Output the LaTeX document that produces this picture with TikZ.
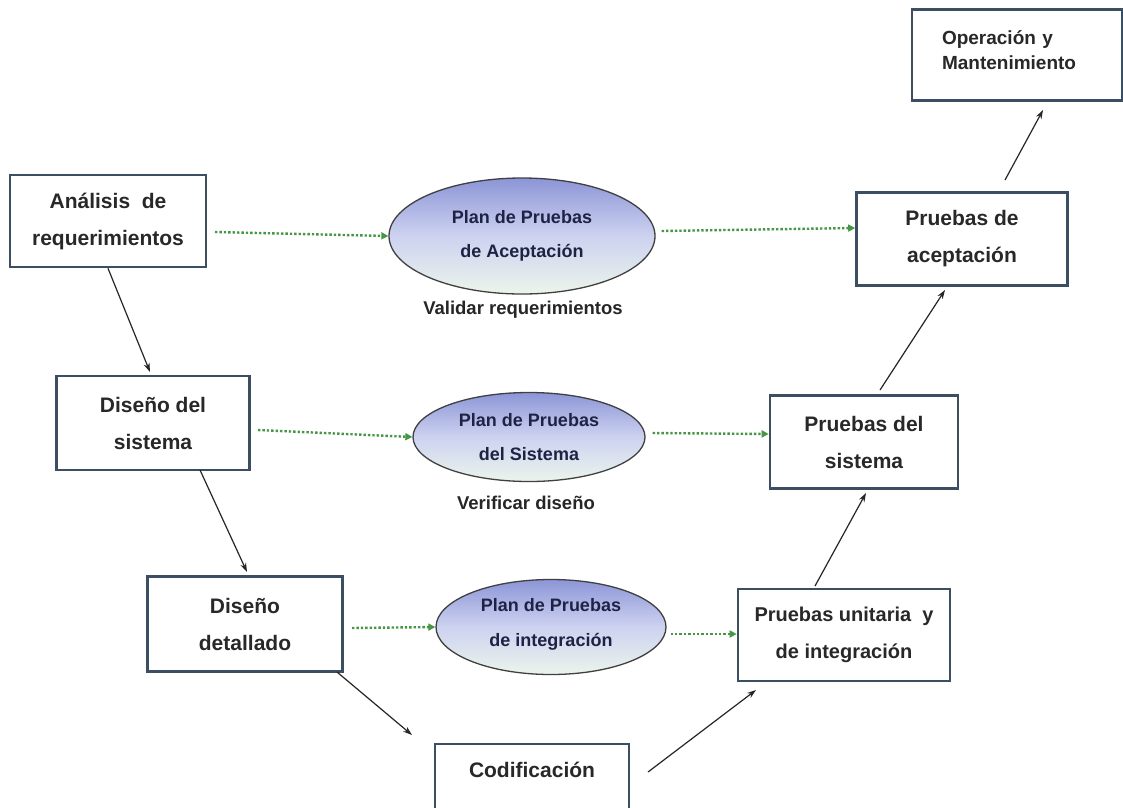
\documentclass[tikz,border=0pt]{standalone}
\usepackage{fontspec}
\setmainfont{Liberation Sans}
\usetikzlibrary{shapes.geometric,arrows.meta}
\definecolor{boxline}{RGB}{60,78,98}
\definecolor{txt}{RGB}{40,40,40}
\definecolor{navy}{RGB}{30,35,70}
\definecolor{dotgreen}{RGB}{70,150,70}
\definecolor{elltop}{RGB}{140,150,215}
\definecolor{ellmid}{RGB}{205,210,240}
\definecolor{ellbot}{RGB}{235,245,235}
\tikzset{
  stepbox/.style={draw=boxline, line width=2.6pt, fill=white, align=center, text=txt,
    font=\bfseries\fontsize{21}{37}\selectfont, inner sep=0pt},
  steptext/.style={text=txt, inner sep=0pt, font=\bfseries\fontsize{21}{37}\selectfont},
  planell/.style={ellipse, draw=black!75, line width=1.3pt, top color=elltop, bottom color=ellbot,
    middle color=ellmid, align=center, text=navy, inner sep=0pt,
    font=\bfseries\fontsize{18}{34}\selectfont},
  note/.style={font=\bfseries\fontsize{18.5}{20}\selectfont, text=black!85},
  flow/.style={-{Stealth[length=9pt,width=6pt]}, line width=1.2pt, black!85},
  dotarrow/.style={dotted, line width=2.4pt, dotgreen, -{Triangle[length=7pt,width=7pt]}}
}
\begin{document}
\begin{tikzpicture}[x=1pt,y=-1pt]
\clip (0,0) rectangle (1123,807);
\fill[white] (0,0) rectangle (1123,807);
% boxes
\node[stepbox, minimum width=196pt, minimum height=92pt] (ana) at (108,221) {Análisis~~de\\requerimientos};
\node[stepbox, minimum width=193pt, minimum height=94pt] (dsis) at (153,423) {Diseño del\\sistema};
\node[stepbox, minimum width=195pt, minimum height=95pt] (ddet) at (245,624) {Diseño\\detallado};
\node[stepbox, minimum width=194pt, minimum height=80pt] (cod) at (532,784) {};
\node[steptext] (codtxt) at (532,770) {Codificación};
\node[stepbox, minimum width=212pt, minimum height=92pt, font=\bfseries\fontsize{20}{37}\selectfont] (puni) at (844,635) {Pruebas unitaria~~y\\de integración};
\node[stepbox, minimum width=188pt, minimum height=93pt] (psis) at (864,442) {Pruebas del\\sistema};
\node[stepbox, minimum width=211pt, minimum height=93pt] (pace) at (962,239) {Pruebas de\\aceptación};
\node[stepbox, minimum width=210pt, minimum height=91pt] (oper) at (1017,55) {};
\node[align=left, text width=150pt, text=txt, inner sep=0pt,
  font=\bfseries\fontsize{19}{25}\selectfont] (opertxt) at (1017,50) {Operación y\\Mantenimiento};
% ellipses
\node[planell, minimum width=266pt, minimum height=116pt] (e1) at (522,236) {Plan de Pruebas\\de Aceptación};
\node[planell, minimum width=232pt, minimum height=89pt] (e2) at (529,437) {Plan de Pruebas\\del Sistema};
\node[planell, minimum width=230pt, minimum height=95pt] (e3) at (551,627) {\raisebox{10pt}{Plan de Pruebas}\\\raisebox{9pt}{de integración}};
% notes
\node[note] (n1) at (523,310) {Validar requerimientos};
\node[note] (n2) at (526,503) {Verificar diseño};
% flow arrows
\draw[flow] (ana.south) -- (150,372);
\draw[flow] (200,470) -- (247,572);
\draw[flow] (337,672) -- (412,735);
\draw[flow] (648,772) -- (756,690);
\draw[flow] (815,586) -- (866,493);
\draw[flow] (880,390) -- (945,290);
\draw[flow] (1005,180) -- (1043,110);
% dotted arrows
\draw[dotarrow] (215,232) -- (e1.west);
\draw[dotarrow] (e1.east) ++(6,-5) -- (pace.west |- 0,228);
\draw[dotarrow] (258,430) -- (e2.west);
\draw[dotarrow] (e2.east) ++(7,-4) -- (psis.west |- 0,434);
\draw[dotarrow] (352,628) -- (e3.west);
\draw[dotarrow] (e3.east) ++(4,7) -- (puni.west |- 0,634);
\end{tikzpicture}
\end{document}
